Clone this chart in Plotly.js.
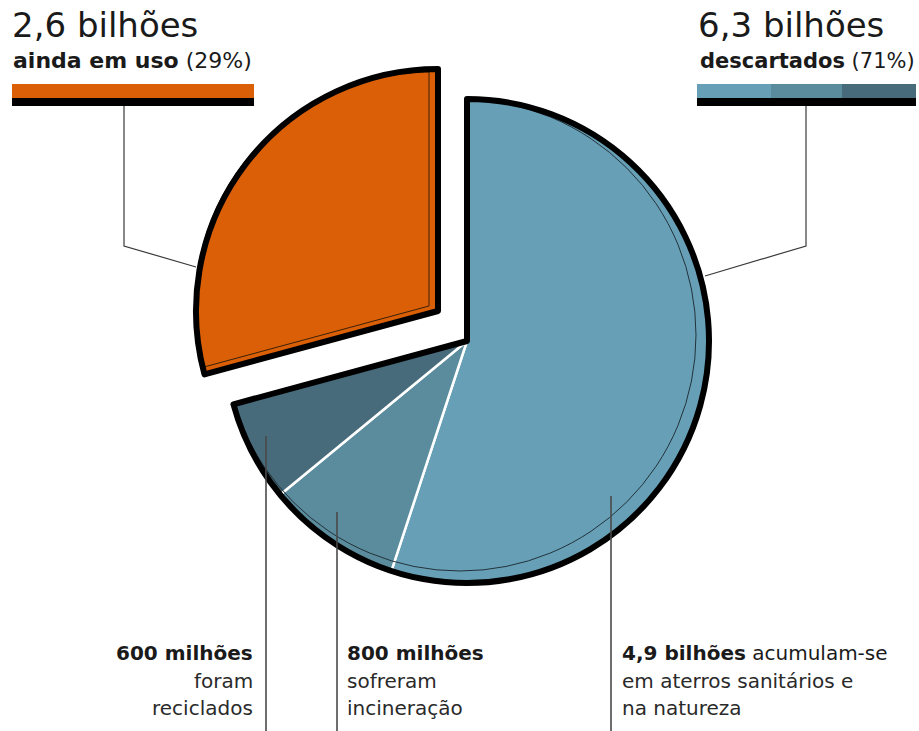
<!DOCTYPE html>
<html><head><meta charset="utf-8">
<script src="https://cdn.plot.ly/plotly-3.0.1.min.js"></script>
<style>html,body{margin:0;padding:0;background:#fff}#chart{width:919px;height:731px}</style>
</head><body><div id="chart"></div>
<script>
// ---- data (billions of plastic tonnes) ----
const categories = ['acumulam-se em aterros sanitários e na natureza', 'sofreram incineração', 'foram reciclados', 'ainda em uso'];
const values = [4.9, 0.8, 0.6, 2.6];
const groupLabels = ['descartados', 'ainda em uso'];
const groupValues = [6.3, 2.6];
const groupHeadlines = ['6,3 bilhões', '2,6 bilhões'];
const groupPercents = ['(71%)', '(29%)'];
const detail600 = ['600 milhões', 'foram', 'reciclados'];
const detail800 = ['800 milhões', 'sofreram', 'incineração'];
const detail49 = ['4,9 bilhões', ' acumulam-se', 'em aterros sanitários e', 'na natureza'];

// ---- style ----
const W = 919, H = 731;
const LIGHT = '#67a0b6', MID = '#5a8c9d', DARK = '#476b7a', ORANGE = '#da5f07';
const T = 'rgba(0,0,0,0)', K = '#000000';
const FONT = 'DejaVu Sans';
const C = {x: 467, y: 341}, CO = {x: 438, y: 311}, R = 242;

function dom(cx, cy, half) {
  return {x: [(cx - half) / W, (cx + half) / W], y: [1 - (cy + half) / H, 1 - (cy - half) / H]};
}
const px = x => x / W, py = y => 1 - y / H;

const base = {type: 'pie', sort: false, direction: 'clockwise', rotation: 0,
  textinfo: 'none', hoverinfo: 'skip', showlegend: false};

const traces = [
  Object.assign({}, base, {labels: categories, values: values,
    marker: {colors: [LIGHT, MID, DARK, T], line: {color: ['#fff', '#fff', '#fff', T], width: 2.5}},
    domain: dom(C.x, C.y, R)}),
  Object.assign({}, base, {labels: [groupLabels[0]], values: [groupValues[0]],
    marker: {colors: [T], line: {color: '#22323a', width: 1}},
    domain: dom(C.x - 7, C.y - 6, R - 6)}),
  Object.assign({}, base, {labels: groupLabels, values: groupValues,
    marker: {colors: [T, '#ffffff'], line: {width: 0}},
    domain: dom(C.x, C.y, R + 14)}),
  Object.assign({}, base, {labels: groupLabels, values: groupValues,
    marker: {colors: [T, ORANGE], line: {width: 0}},
    domain: dom(CO.x, CO.y, R)}),
  Object.assign({}, base, {labels: groupLabels, values: groupValues,
    marker: {colors: [T, T], line: {color: [T, '#3a2208'], width: 1}},
    domain: dom(CO.x - 9, CO.y - 5, R - 8)}),
  Object.assign({}, base, {labels: groupLabels, values: groupValues,
    marker: {colors: [T, T], line: {color: [K, T], width: 6}},
    domain: dom(C.x, C.y, R)}),
  Object.assign({}, base, {labels: groupLabels, values: groupValues,
    marker: {colors: [T, T], line: {color: [T, K], width: 6}},
    domain: dom(CO.x, CO.y, R)})
];

function rect(x0, y0, x1, y1, color) {
  return {type: 'rect', xref: 'paper', yref: 'paper', x0: px(x0), x1: px(x1), y0: py(y1), y1: py(y0),
    fillcolor: color, line: {width: 0}};
}
function poly(pts, color, width) {
  return {type: 'path', xref: 'paper', yref: 'paper',
    path: pts.map((p, i) => (i ? 'L' : 'M') + px(p[0]) + ',' + py(p[1])).join(' '),
    line: {color: color, width: width}};
}
const shapes = [
  rect(12, 84, 254, 98, ORANGE), rect(12, 98, 254, 106, K),
  rect(697, 84, 771, 98, LIGHT), rect(771, 84, 842, 98, MID), rect(842, 84, 916, 98, DARK), rect(697, 98, 916, 106, K),
  poly([[124, 106], [124, 246], [196, 267]], '#3a3a3a', 1.2),
  poly([[806, 106], [806, 246], [705, 276]], '#3a3a3a', 1.2),
  poly([[266, 436], [266, 731]], '#4a4a4a', 1.6),
  poly([[337, 512], [337, 731]], '#4a4a4a', 1.6),
  poly([[611, 496], [611, 731]], '#4a4a4a', 1.6)
];

function ann(text, x, y, size, xanchor, color) {
  return {text: text, x: px(x), y: py(y), xref: 'paper', yref: 'paper', showarrow: false,
    xanchor: xanchor, yanchor: 'middle', align: xanchor === 'right' ? 'right' : 'left',
    font: {family: FONT, size: size, color: color || '#1a1a1a'}};
}
const annotations = [
  ann(groupHeadlines[1], 10, 25, 34, 'left'),
  ann('<b>' + groupLabels[1] + '</b> ' + groupPercents[1], 11, 61, 22, 'left'),
  ann(groupHeadlines[0], 696, 25, 34, 'left'),
  ann('<b>' + groupLabels[0] + '</b> ' + groupPercents[0], 917, 61, 21, 'right'),
  ann('<b>' + detail600[0] + '</b>', 255, 653, 20, 'right'),
  ann(detail600[1], 255, 681, 20, 'right', '#2a2a2a'),
  ann(detail600[2], 255, 708, 20, 'right', '#2a2a2a'),
  ann('<b>' + detail800[0] + '</b>', 345, 653, 20, 'left'),
  ann(detail800[1], 345, 681, 20, 'left', '#2a2a2a'),
  ann(detail800[2], 345, 708, 20, 'left', '#2a2a2a'),
  ann('<b>' + detail49[0] + '</b>' + detail49[1], 620, 653, 20, 'left'),
  ann(detail49[2], 620, 681, 20, 'left', '#2a2a2a'),
  ann(detail49[3], 620, 708, 20, 'left', '#2a2a2a')
];

const layout = {width: W, height: H, margin: {l: 0, r: 0, t: 0, b: 0},
  paper_bgcolor: '#fff', plot_bgcolor: '#fff', showlegend: false,
  shapes: shapes, annotations: annotations};

Plotly.newPlot('chart', traces, layout, {staticPlot: true, displayModeBar: false});
</script></body></html>
